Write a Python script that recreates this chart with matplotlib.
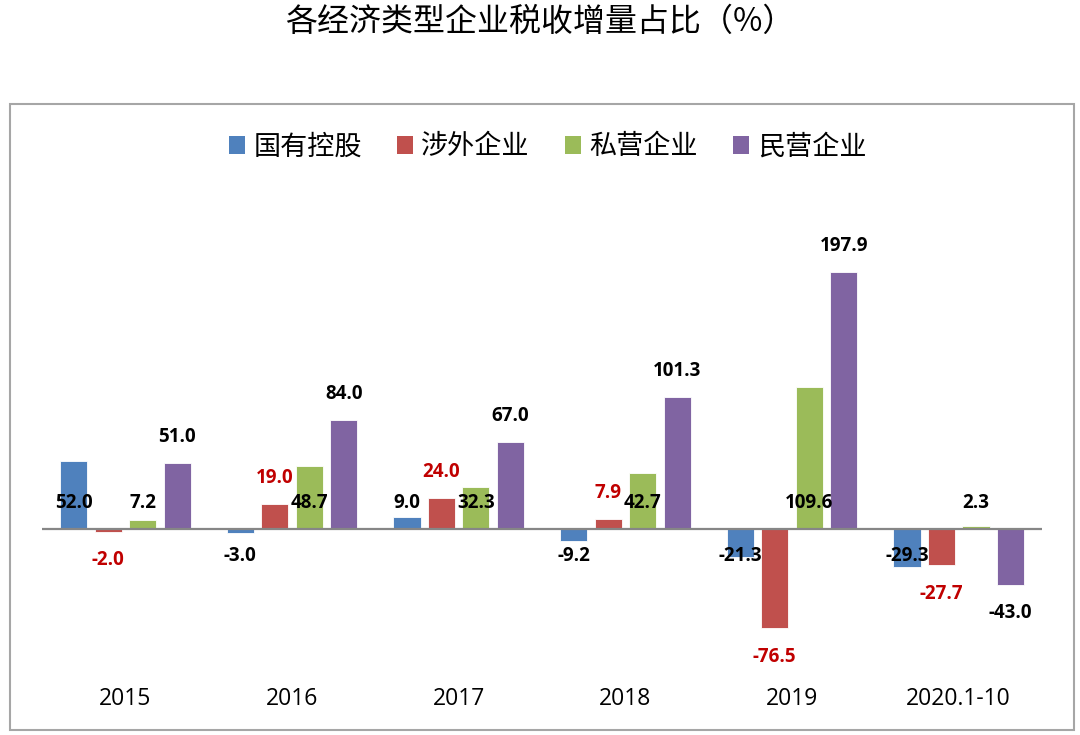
import matplotlib
matplotlib.use("Agg")
import matplotlib.pyplot as plt
from matplotlib.patches import Rectangle, Patch
import numpy as np

categories = ["2015", "2016", "2017", "2018", "2019", "2020.1-10"]
series_names = ["国有控股", "涉外企业", "私营企业", "民营企业"]
state_owned = [52.0, -3.0, 9.0, -9.2, -21.3, -29.3]
foreign = [-2.0, 19.0, 24.0, 7.9, -76.5, -27.7]
private = [7.2, 48.7, 32.3, 42.7, 109.6, 2.3]
non_state = [51.0, 84.0, 67.0, 101.3, 197.9, -43.0]
title = "各经济类型企业税收增量占比（%）"

colors = ["#4F81BD", "#C0504D", "#9BBB59", "#8064A2"]
label_colors = ["black", "#C00000", "black", "black"]
inside_base = [True, False, True, False]

CJK = ["Noto Sans CJK SC", "DejaVu Sans"]
NUM = ["Open Sans", "DejaVu Sans"]

fig = plt.figure(figsize=(10.8, 7.35), dpi=100)
fig.patch.set_facecolor("white")

# outer border
fig.patches.append(Rectangle((10 / 1080, 1 - 730 / 735), 1064 / 1080, 626 / 735,
                             transform=fig.transFigure, fill=False,
                             edgecolor="#A6A6A6", linewidth=1.5))

fig.text(0.5, 1 - 22 / 735, title, ha="center", va="center",
         fontsize=23, family=CJK, color="black")

ax = fig.add_axes([42 / 1080, 1 - 659 / 735, 1000 / 1080, (659 - 204) / 735])
ax.set_xlim(-0.5, len(categories) - 0.5)
ax.set_ylim(-100, 250)

x = np.arange(len(categories))
step = 0.207
width = 0.163
all_series = [state_owned, foreign, private, non_state]
for i, vals in enumerate(all_series):
    pos = x + (i - 1.5) * step
    ax.bar(pos, vals, width=width, color=colors[i], edgecolor="white",
           linewidth=0.6, zorder=2)
    for xp, v in zip(pos, vals):
        if inside_base[i]:
            yl = 20 if v >= 0 else -21
        else:
            yl = v + (20 if v >= 0 else -22)
        ax.text(xp, yl, f"{v:.1f}", ha="center", va="center",
                fontsize=13.5, fontweight="bold", family=NUM,
                color=label_colors[i], zorder=4)

ax.axhline(0, color="#868686", linewidth=1.6, zorder=3)

for sp in ax.spines.values():
    sp.set_visible(False)
ax.set_yticks([])
ax.set_xticks(x)
ax.set_xticklabels(categories, family=NUM, fontsize=16.5)
ax.tick_params(axis="x", length=0, pad=20)

handles = [Patch(facecolor=c, edgecolor="none") for c in colors]
fig.legend(handles, series_names, loc="center", bbox_to_anchor=(0.507, 1 - 147 / 735),
           ncol=4, frameon=False, prop={"family": CJK, "size": 19.5},
           handlelength=0.6, handleheight=0.6, handletextpad=0.3, columnspacing=1.3)

fig.savefig("out.png", dpi=100, facecolor="white")
